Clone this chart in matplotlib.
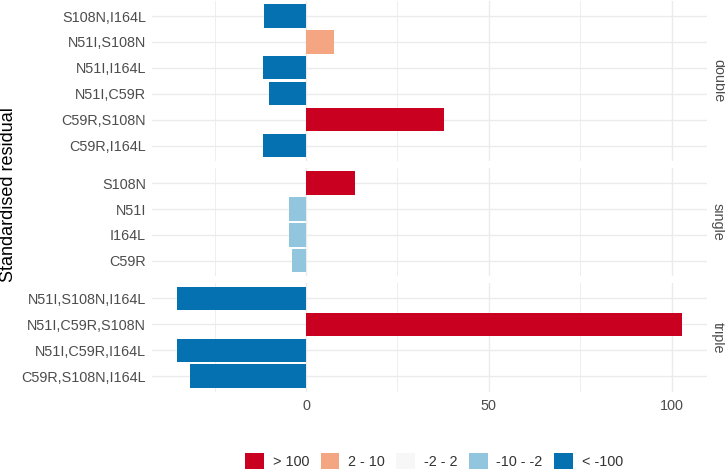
import numpy as np
import matplotlib.pyplot as plt
from matplotlib.patches import Patch

plt.rcParams['font.family'] = ['Liberation Sans', 'DejaVu Sans']

# data (rows listed bottom -> top inside each facet)
panels = ['double', 'single', 'triple']

double_labels = ['C59R,I164L', 'C59R,S108N', 'N51I,C59R', 'N51I,I164L', 'N51I,S108N', 'S108N,I164L']
double_values = [-11.8, 37.8, -10.2, -11.8, 7.7, -11.4]
double_bins = ['< -100', '> 100', '< -100', '< -100', '2 - 10', '< -100']

single_labels = ['C59R', 'I164L', 'N51I', 'S108N']
single_values = [-3.8, -4.8, -4.8, 13.4]
single_bins = ['-10 - -2', '-10 - -2', '-10 - -2', '> 100']

triple_labels = ['C59R,S108N,I164L', 'N51I,C59R,I164L', 'N51I,C59R,S108N', 'N51I,S108N,I164L']
triple_values = [-31.7, -35.4, 102.8, -35.4]
triple_bins = ['< -100', '< -100', '> 100', '< -100']

bin_labels = ['> 100', '2 - 10', '-2 - 2', '-10 - -2', '< -100']
bin_colors = ['#CA0020', '#F4A582', '#F7F7F7', '#92C5DE', '#0571B0']
colmap = dict(zip(bin_labels, bin_colors))

data = {
    'double': (double_labels, double_values, double_bins),
    'single': (single_labels, single_values, single_bins),
    'triple': (triple_labels, triple_values, triple_bins),
}

W, H = 725, 471
fig = plt.figure(figsize=(W / 100, H / 100), dpi=100)

left_px, right_px = 151.5, 707
unit = 25.9   # pixels per category row
gap = 6.5
top = 0.5
xlim = (-42.3, 109.7)
grid_c = '#EBEBEB'
txt_c = '#4D4D4D'
fs = 10.4

y = top
axes = []
for name in panels:
    labels, vals, bins = data[name]
    n = len(labels)
    h = (n - 1 + 1.2) * unit
    ax = fig.add_axes([left_px / W, 1 - (y + h) / H, (right_px - left_px) / W, h / H])
    pos = np.arange(n)
    ax.barh(pos, vals, height=0.9, color=[colmap[b] for b in bins], zorder=3)
    ax.set_xlim(*xlim)
    ax.set_ylim(-0.6, n - 1 + 0.6)
    ax.set_yticks(pos)
    ax.set_yticklabels(labels)
    ax.set_xticks([0, 50, 100])
    ax.set_xticks([-25, 25, 75], minor=True)
    ax.grid(True, which='major', color=grid_c, linewidth=1.0, zorder=0)
    ax.grid(True, which='minor', axis='x', color=grid_c, linewidth=0.6, zorder=0)
    ax.tick_params(which='both', length=0)
    ax.tick_params(axis='y', labelsize=fs, labelcolor=txt_c, pad=4)
    ax.tick_params(axis='x', labelsize=fs, labelcolor=txt_c, pad=5)
    for s in ax.spines.values():
        s.set_visible(False)
    if name != panels[-1]:
        ax.set_xticklabels([])
    # facet strip label on the right
    fig.text(718 / W, 1 - (y + h / 2) / H, name, rotation=-90, ha='center', va='center',
             fontsize=fs, color=txt_c)
    axes.append(ax)
    y += h + gap

fig.text(9 / W, 1 - 195 / H, 'Standardised residual', rotation=90, ha='center', va='center',
         fontsize=13, color='black')

handles = [Patch(facecolor=c, edgecolor='none') for c in bin_colors]
fig.legend(handles, bin_labels, loc='center', bbox_to_anchor=(434 / W, 1 - 461 / H), ncol=5,
           frameon=False, handlelength=1.3, handleheight=1.3, handletextpad=0.6,
           columnspacing=0.8, fontsize=fs, labelcolor='#333333')

fig.savefig('out.png', dpi=100)
